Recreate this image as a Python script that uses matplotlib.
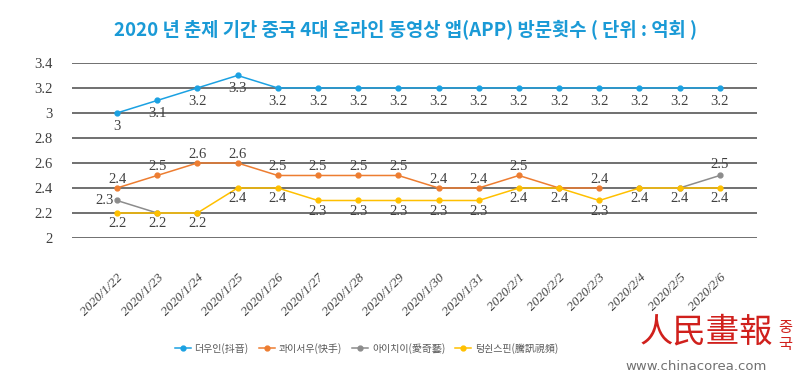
import numpy as np
import matplotlib
matplotlib.use('Agg')
import matplotlib.pyplot as plt

plt.rcParams['font.family'] = ['Noto Sans CJK KR', 'DejaVu Sans']

dates = ['2020/1/22', '2020/1/23', '2020/1/24', '2020/1/25', '2020/1/26',
         '2020/1/27', '2020/1/28', '2020/1/29', '2020/1/30', '2020/1/31',
         '2020/2/1', '2020/2/2', '2020/2/3', '2020/2/4', '2020/2/5',
         '2020/2/6']
nan = np.nan
douyin = [3.0, 3.1, 3.2, 3.3, 3.2, 3.2, 3.2, 3.2, 3.2, 3.2, 3.2, 3.2, 3.2,
          3.2, 3.2, 3.2]
kuaishou = [2.4, 2.5, 2.6, 2.6, 2.5, 2.5, 2.5, 2.5, 2.4, 2.4, 2.5, 2.4, 2.4,
            nan, nan, nan]
iqiyi = [2.3, 2.2, 2.2, nan, nan, nan, nan, nan, nan, nan, nan, nan, nan,
         2.4, 2.4, 2.5]
tencent = [2.2, 2.2, 2.2, 2.4, 2.4, 2.3, 2.3, 2.3, 2.3, 2.3, 2.4, 2.4, 2.3,
           2.4, 2.4, 2.4]
names = ['더우인(抖音)', '콰이서우(快手)', '아이치이(愛奇藝)', '텅쉰스핀(騰訊視頻)']
colors = ['#1ba1e2', '#ed7d31', '#8c8c8c', '#ffc000']
yticks = [2, 2.2, 2.4, 2.6, 2.8, 3, 3.2, 3.4]

x = np.arange(len(dates))
fig = plt.figure(figsize=(8, 3.76), dpi=100)
ax = fig.add_axes([0.09, 0.367, 0.856, 0.4656])

for yv in yticks:
    ax.axhline(yv, color='#707070', lw=1.4, zorder=1)

series = [douyin, kuaishou, iqiyi, tencent]
for s, c, n in zip(series, colors, names):
    ax.plot(x, s, color=c, lw=1.1, marker='o', ms=3.5, label=n, zorder=3)

lab = dict(fontsize=10.5, color='#404040', family=['Liberation Serif'])
for i, v in enumerate(douyin):
    ax.annotate(f'{v:g}', (x[i], v), xytext=(0, -5), textcoords='offset points',
                ha='center', va='top', **lab)
for i, v in enumerate(kuaishou):
    if np.isnan(v) or i == 11:
        continue
    ax.annotate(f'{v:g}', (x[i], v), xytext=(0, 1.5), textcoords='offset points',
                ha='center', va='bottom', **lab)
for i, v in enumerate(tencent):
    ax.annotate(f'{v:g}', (x[i], v), xytext=(0, -3), textcoords='offset points',
                ha='center', va='top', **lab)
ax.annotate(f'{iqiyi[0]:g}', (x[0], iqiyi[0]), xytext=(-2, 0),
            textcoords='offset points', ha='right', va='center', **lab)
ax.annotate(f'{iqiyi[-1]:g}', (x[-1], iqiyi[-1]), xytext=(0, 3),
            textcoords='offset points', ha='center', va='bottom', **lab)

ax.set_xlim(-1.12, 15.92)
ax.set_ylim(2, 3.4)
ax.set_yticks(yticks)
ax.set_yticklabels([f'{v:g}' for v in yticks], family=['Liberation Serif'],
                   fontsize=10.5, color='#404040')
ax.set_xticks(x)
ax.set_xticklabels(dates, rotation=45, ha='right', va='top',
                   rotation_mode='anchor', family=['Liberation Serif'],
                   style='italic', fontsize=9.5, color='#404040')
ax.tick_params(axis='both', length=0)
ax.tick_params(axis='x', pad=24)
ax.tick_params(axis='y', pad=14)
for sp in ax.spines.values():
    sp.set_visible(False)

fig.text(0.507, 0.92, '2020 년 춘제 기간 중국 4대 온라인 동영상 앱(APP) 방문횟수 ( 단위 : 억회 )',
         ha='center', va='center', fontsize=13.5, fontweight='bold',
         color='#1a9ad6')

ax.legend(loc='center', bbox_to_anchor=(0.43, -0.63), ncol=4, frameon=False,
          fontsize=7.2, labelcolor='#595959', handlelength=1.6,
          columnspacing=1.0, handletextpad=0.4)

# watermark
fig.text(0.80, 0.07, '人民畫報', fontsize=24, color='#d0201c',
         family=['Noto Sans CJK TC'], style='italic', ha='left', va='bottom')
fig.text(0.982, 0.06, '중\n국', fontsize=11, color='#d0201c',
         ha='center', va='bottom', linespacing=1.0)
fig.text(0.87, 0.025, 'www.chinacorea.com', fontsize=9.5, color='#707070',
         family=['DejaVu Sans'], ha='center', va='center')

fig.savefig('out.png', dpi=100)
